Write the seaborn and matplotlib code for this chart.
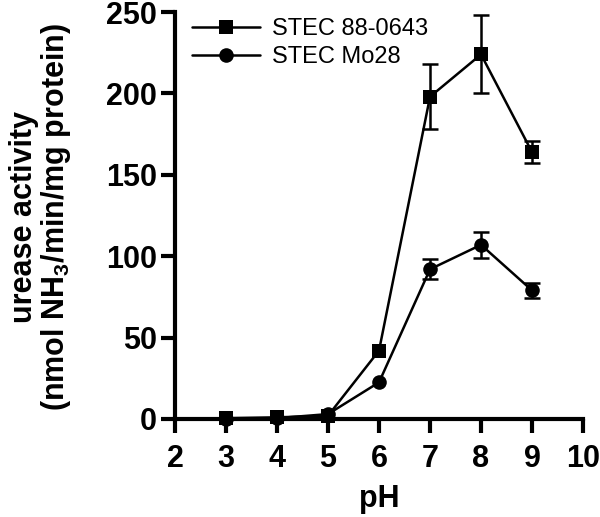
import numpy as np
import pandas as pd
import matplotlib
matplotlib.use('Agg')
import matplotlib.pyplot as plt
import seaborn as sns

# ── DATA ──────────────────────────────────────────────
ph = [3, 4, 5, 6, 7, 8, 9]
strain_a = 'STEC 88-0643'
strain_b = 'STEC Mo28'
urease_a = [0.5, 1.0, 2.0, 42, 198, 224, 164]
err_a = [0, 0, 0, 0, 20, 24, 7]
urease_b = [0.0, 0.5, 3.0, 22.5, 92, 107, 79]
err_b = [0, 0, 0, 0, 6, 8, 4.5]

df = pd.DataFrame({
    'pH': ph + ph,
    'urease': urease_a + urease_b,
    'err': err_a + err_b,
    'strain': [strain_a] * len(ph) + [strain_b] * len(ph),
})

sns.set_style('ticks')
plt.rcParams['font.family'] = ['Liberation Sans', 'DejaVu Sans']
plt.rcParams['mathtext.fontset'] = 'custom'
plt.rcParams['mathtext.rm'] = 'Liberation Sans:bold'
plt.rcParams['mathtext.bf'] = 'Liberation Sans:bold'
for k in ['text.color', 'axes.labelcolor', 'xtick.color', 'ytick.color',
          'axes.edgecolor']:
    plt.rcParams[k] = 'black'

fig = plt.figure(figsize=(6.0, 5.17), dpi=100)
ax = fig.add_axes([0.2917, 0.1896, 0.680, 0.787])

sns.lineplot(data=df, x='pH', y='urease', hue='strain', style='strain',
             markers={strain_a: 's', strain_b: 'o'}, dashes=False,
             palette={strain_a: 'black', strain_b: 'black'},
             markersize=10.5, linewidth=1.8, markeredgewidth=0, ax=ax,
             clip_on=False, zorder=3)

# error bars only where SD is visible
eb = df[df['err'] > 0]
ax.errorbar(eb['pH'], eb['urease'], yerr=eb['err'], fmt='none',
            ecolor='black', elinewidth=1.8, capsize=6, capthick=1.8,
            zorder=2)

ax.set_xlim(2, 10)
ax.set_ylim(0, 250)
ax.set_xticks(range(2, 11))
ax.set_yticks([0, 50, 100, 150, 200, 250])
for s in ['top', 'right']:
    ax.spines[s].set_visible(False)
for s in ['left', 'bottom']:
    ax.spines[s].set_linewidth(3)
ax.tick_params(axis='both', width=3, length=10, labelsize=22)
ax.tick_params(axis='x', pad=8)
ax.tick_params(axis='y', pad=3)
for lbl in ax.get_xticklabels() + ax.get_yticklabels():
    lbl.set_fontweight('bold')

ax.set_xlabel('pH', fontsize=22, fontweight='bold', labelpad=7)
ax.set_ylabel('urease activity\n(nmol NH$_3$/min/mg protein)', fontsize=22,
              fontweight='bold', linespacing=1.0)
ax.yaxis.set_label_coords(-0.25, 0.496)

leg = ax.legend(loc='upper left', bbox_to_anchor=(0.0, 1.025), frameon=False,
                fontsize=17, handlelength=2.9, handletextpad=0.5,
                labelspacing=0.25, borderaxespad=0.3)
for line in leg.get_lines():
    line.set_linewidth(1.8)

fig.savefig('out.png', dpi=100)
